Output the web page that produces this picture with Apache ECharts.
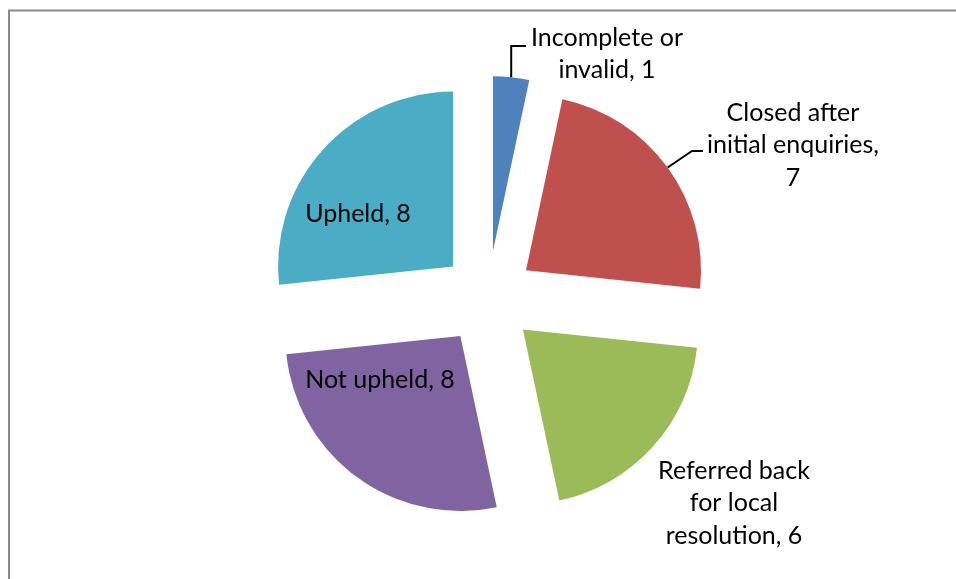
<!DOCTYPE html>
<html>
<head>
<meta charset="utf-8">
<script src="https://cdn.jsdelivr.net/npm/echarts@6/dist/echarts.min.js"></script>
<style>
  html, body { margin: 0; padding: 0; background: #fff; }
  #chart { width: 956px; height: 579px; }
</style>
</head>
<body>
<div id="chart"></div>
<script>
const categories = ['Incomplete or invalid', 'Closed after initial enquiries', 'Referred back for local resolution', 'Not upheld', 'Upheld']
const values = [1, 7, 6, 8, 8]
// wrapped label text, as shown on the chart
const labelText = ['Incomplete or\ninvalid, 1', 'Closed after\ninitial enquiries,\n7', 'Referred back\nfor local\nresolution, 6', 'Not upheld, 8', 'Upheld, 8']
const colors = ['#4F81BD', '#C0504D', '#9BBB59', '#8064A2', '#4BACC6']

const CENTER = [488, 298]
const RADIUS = 175
const EXPLODE = 47

// label anchor (centre of text block) and leader elbow, in px
const labelPos = [
  { x: 607, y: 54, elbow: [null, 46], end: 526 },
  { x: 793, y: 145, elbow: [692, 151], end: 703 },
  { x: 734, y: 503 },
  { x: 380, y: 380 },
  { x: 358, y: 214 }
]
const showLine = [true, true, false, false, false]

const chart = echarts.init(document.getElementById('chart'))

const pieBase = {
  type: 'pie',
  center: CENTER,
  radius: RADIUS,
  startAngle: 90,
  clockwise: true,
  silent: true,
  avoidLabelOverlap: false,
  emphasis: { disabled: true }
}

chart.setOption({
  animation: false,
  graphic: [{
    type: 'rect',
    z: -1,
    shape: { x: 9, y: 10.5, width: 1000, height: 1000 },
    style: { fill: 'none', stroke: '#8a8a8a', lineWidth: 2 }
  }],
  series: [
    // exploded slices
    Object.assign({}, pieBase, {
      selectedMode: 'multiple',
      selectedOffset: EXPLODE,
      select: { itemStyle: { borderWidth: 0 } },
      label: { show: false },
      labelLine: { show: false },
      data: categories.map((name, i) => ({
        name: name,
        value: values[i],
        selected: true,
        itemStyle: { color: colors[i] }
      }))
    }),
    // labels
    Object.assign({}, pieBase, {
      z: 3,
      itemStyle: { color: 'rgba(0,0,0,0)' },
      label: {
        show: true,
        position: 'outside',
        color: '#000',
        fontFamily: 'Lato, "Open Sans", sans-serif',
        fontSize: 25,
        lineHeight: 32.5,
        align: 'center',
        formatter: (p) => labelText[p.dataIndex]
      },
      labelLine: {
        lineStyle: { color: '#000', width: 2 },
        length: 10,
        length2: 10
      },
      labelLayout: function (params) {
        const i = params.dataIndex
        const p = labelPos[i]
        const res = { x: p.x, y: p.y, align: 'center', verticalAlign: 'middle' }
        if (showLine[i] && params.labelLinePoints) {
          // push the arc point out by the explode offset
          const q = params.labelLinePoints[0]
          const dx = q[0] - CENTER[0], dy = q[1] - CENTER[1]
          const len = Math.sqrt(dx * dx + dy * dy) || 1
          const p0 = [q[0] + dx / len * EXPLODE, q[1] + dy / len * EXPLODE]
          const ex = p.elbow[0] == null ? p0[0] : p.elbow[0]
          const ey = p.elbow[1]
          res.labelLinePoints = [p0, [ex, ey], [p.end, ey]]
        }
        return res
      },
      data: categories.map((name, i) => ({
        name: name,
        value: values[i],
        labelLine: { show: showLine[i] }
      }))
    })
  ]
})
</script>
</body>
</html>
